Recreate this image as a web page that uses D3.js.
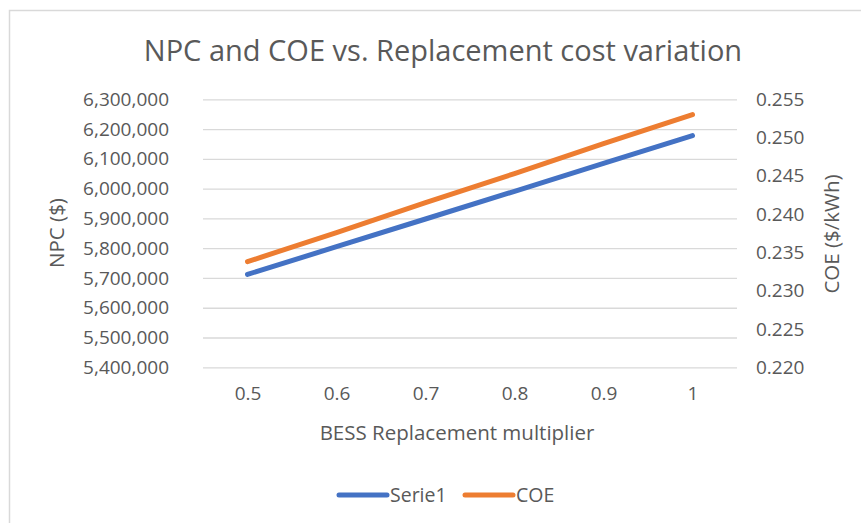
<!DOCTYPE html>
<html>
<head>
<meta charset="utf-8">
<script src="https://cdn.jsdelivr.net/npm/d3@7"></script>
<style>
  body { margin: 0; background: #fff; }
  text { font-family: 'Open Sans', sans-serif; fill: #595959; }
  .grid line { stroke: #d9d9d9; stroke-width: 1.3; }
  .grid .domain { display: none; }
  .axis .domain { display: none; }
  .axis line { display: none; }
</style>
</head>
<body>
<div id="chart"></div>
<script>
// chart data
var categories = ['0.5', '0.6', '0.7', '0.8', '0.9', '1'];
var npcValues  = [5712000, 5805000, 5898000, 5991000, 6085000, 6178000];
var coeValues  = [0.2338, 0.2376, 0.2415, 0.2453, 0.2492, 0.2530];
var npcTicks   = [5400000, 5500000, 5600000, 5700000, 5800000, 5900000, 6000000, 6100000, 6200000, 6300000];
var coeTicks   = [0.220, 0.225, 0.230, 0.235, 0.240, 0.245, 0.250, 0.255];
var seriesNames = ['Serie1', 'COE'];

var W = 861, H = 523;
var plot = { left: 203, right: 737, top: 99.3, bottom: 367.3 };

var svg = d3.select ('#chart')
            .append ('svg')
            .attr ('width', W)
            .attr ('height', H);

svg.append ('rect')
   .attr ('width', W).attr ('height', H)
   .attr ('fill', '#fff');

// chart frame (runs off the right and bottom)
svg.append ('rect')
   .attr ('x', 9.5).attr ('y', 10.5)
   .attr ('width', 1000).attr ('height', 1000)
   .attr ('fill', 'none')
   .attr ('stroke', '#d9d9d9')
   .attr ('stroke-width', 1.5);

// scales
var xScale = d3.scalePoint ()
               .domain (categories)
               .range ([plot.left, plot.right])
               .padding (0.5);

var yLeft = d3.scaleLinear ()
              .domain ([5400000, 6300000])
              .range ([plot.bottom, plot.top]);

var yRight = d3.scaleLinear ()
               .domain ([0.220, 0.255])
               .range ([plot.bottom, plot.top]);

// horizontal grid lines
svg.append ('g')
   .attr ('class', 'grid')
   .attr ('transform', 'translate(' + plot.left + ',0)')
   .call (d3.axisLeft (yLeft)
            .tickValues (npcTicks)
            .tickSize (-(plot.right - plot.left))
            .tickFormat (''));

// left axis
svg.append ('g')
   .attr ('class', 'axis')
   .attr ('transform', 'translate(' + (plot.left - 31) + ',0)')
   .call (d3.axisLeft (yLeft)
            .tickValues (npcTicks)
            .tickSize (0)
            .tickFormat (d3.format (',')));

// right axis
svg.append ('g')
   .attr ('class', 'axis')
   .attr ('transform', 'translate(' + (plot.right + 16) + ',0)')
   .call (d3.axisRight (yRight)
            .tickValues (coeTicks)
            .tickSize (0)
            .tickFormat (d3.format ('.3f')));

// bottom axis
svg.append ('g')
   .attr ('class', 'axis')
   .attr ('transform', 'translate(0,' + (plot.bottom + 16) + ')')
   .call (d3.axisBottom (xScale).tickSize (0));

svg.selectAll ('.axis text')
   .style ('font-size', '19px')
   .attr ('fill', '#595959');

// titles
svg.append ('text')
   .attr ('x', 443).attr ('y', 61)
   .attr ('text-anchor', 'middle')
   .style ('font-size', '29px')
   .text ('NPC and COE vs. Replacement  cost variation');

svg.append ('text')
   .attr ('transform', 'translate(64,233) rotate(-90)')
   .attr ('text-anchor', 'middle')
   .style ('font-size', '20.5px')
   .text ('NPC ($)');

svg.append ('text')
   .attr ('transform', 'translate(839,234) rotate(-90)')
   .attr ('text-anchor', 'middle')
   .style ('font-size', '20.5px')
   .text ('COE ($/kWh)');

svg.append ('text')
   .attr ('x', 457).attr ('y', 440)
   .attr ('text-anchor', 'middle')
   .style ('font-size', '20.5px')
   .text ('BESS Replacement multiplier');

// lines
var npcLine = d3.line ()
                .x (function(d, i) { return xScale (categories[i]); })
                .y (function(d) { return yLeft (d); });

var coeLine = d3.line ()
                .x (function(d, i) { return xScale (categories[i]); })
                .y (function(d) { return yRight (d); });

svg.append ('path')
   .datum (npcValues)
   .attr ('d', npcLine)
   .attr ('fill', 'none')
   .attr ('stroke', '#4472c4')
   .attr ('stroke-width', 5)
   .attr ('stroke-linecap', 'round')
   .attr ('stroke-linejoin', 'round');

svg.append ('path')
   .datum (coeValues)
   .attr ('d', coeLine)
   .attr ('fill', 'none')
   .attr ('stroke', '#ed7d31')
   .attr ('stroke-width', 5)
   .attr ('stroke-linecap', 'round')
   .attr ('stroke-linejoin', 'round');

// legend
var legendColors = ['#4472c4', '#ed7d31'];
var legendX = [339, 465];
var leg = svg.append ('g');
seriesNames.forEach (function(name, i)
{
    leg.append ('line')
       .attr ('x1', legendX[i]).attr ('x2', legendX[i] + 48)
       .attr ('y1', 495).attr ('y2', 495)
       .attr ('stroke', legendColors[i])
       .attr ('stroke-width', 5)
       .attr ('stroke-linecap', 'round');
    leg.append ('text')
       .attr ('x', legendX[i] + 51).attr ('y', 502)
       .style ('font-size', '19.5px')
       .text (name);
});
</script>
</body>
</html>
